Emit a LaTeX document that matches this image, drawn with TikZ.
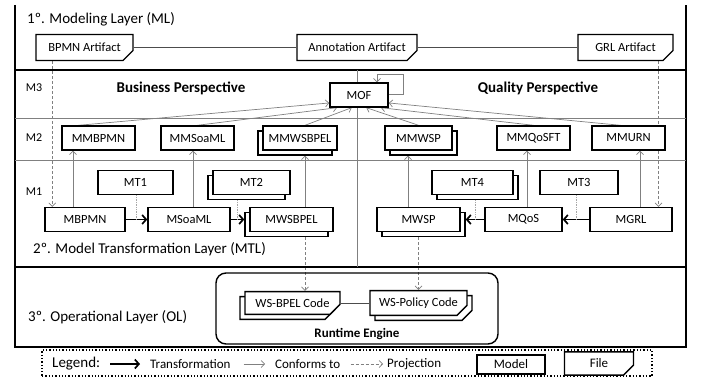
\documentclass[tikz,border=0pt]{standalone}
\usepackage{fontspec}
\setmainfont{Carlito}
\usetikzlibrary{shapes.misc}
\usetikzlibrary{shadows}
\usetikzlibrary{backgrounds}
\usetikzlibrary{calc}
\usetikzlibrary{arrows.meta}

\tikzset{
  layerline/.style={line width=2.4pt},
  sepline/.style={gray, line width=0.8pt},
  model/.style={draw, line width=1.4pt, fill=white, minimum height=24pt, inner sep=2pt, font=\fontsize{12.5}{15}\selectfont},
  file/.style={model, chamfered rectangle, chamfered rectangle corners=south east,
    chamfered rectangle xsep=5pt, chamfered rectangle ysep=5pt,
    path picture={\fill ([xshift=-5pt]path picture bounding box.south east) -- ++(0,5pt) -- ++(5pt,0) -- cycle;}},
  stackl/.style={copy shadow={shadow xshift=-5pt, shadow yshift=-5pt, draw, fill=white, line width=1.4pt}},
  stackr/.style={copy shadow={shadow xshift=5pt, shadow yshift=-5pt, draw, fill=white, line width=1.4pt}},
  transf/.style={-{Straight Barb[length=4pt,width=9pt]}, line width=1.7pt},
  conforms/.style={->, gray, line width=0.7pt},
  proj/.style={->, gray, densely dashed, line width=0.7pt},
  mtlink/.style={gray!70, densely dotted, line width=0.7pt},
  layertitle/.style={anchor=west, inner sep=0pt, font=\fontsize{15}{18}\selectfont},
  persp/.style={inner sep=0pt, font=\bfseries\fontsize{15}{18}\selectfont},
  mlevel/.style={inner sep=0pt, font=\fontsize{12}{14}\selectfont},
  legtext/.style={anchor=west, inner sep=0pt, font=\fontsize{13}{15}\selectfont},
}

\begin{document}
\begin{tikzpicture}[x=1pt, y=-1pt, >={Straight Barb[length=3.5pt,width=7pt]}]
	\useasboundingbox (0,0) rectangle (701,385);
	%\draw[help lines] (0,0) grid[step=50] (701,385);

	% layers
	\draw[layerline] (15,5) -- (15,347) -- (686,347) -- (686,5);
	\draw[layerline] (15,70) -- (686,70);
	\draw[layerline] (15,267) -- (686,267);
	\draw[sepline] (15,118) -- (686,118);
	\draw[sepline] (15,160) -- (686,160);
	\draw[sepline] (357,70) -- (357,267);

	\node[layertitle] (ml) at (27,19) {1º. Modeling Layer (ML)};
	\node[layertitle] (mtl) at (33,249) {2º. Model Transformation Layer (MTL)};
	\node[layertitle] (ol) at (28,317) {3º. Operational Layer (OL)};

	\node[mlevel] (m3) at (34,88) {M3};
	\node[mlevel] (m2) at (34,138) {M2};
	\node[mlevel] (m1) at (34,192) {M1};

	\node[persp] (bp) at (181,88) {Business Perspective};
	\node[persp] (qp) at (538,88) {Quality Perspective};

	% artifacts
	\node[file, minimum width=97pt, minimum height=26pt] (bpmnart) at (84.5,47.5) {BPMN Artifact};
	\node[file, minimum width=120pt, minimum height=26pt] (annart) at (357,47.5) {Annotation Artifact};
	\node[file, minimum width=95pt, minimum height=26pt] (grlart) at (625.5,47.5) {GRL Artifact};

	% M3
	\node[model, minimum width=58pt] (mof) at (359,95) {MOF};

	% M2
	\node[model, minimum width=73pt] (mmbpmn) at (98.5,138) {MMBPMN};
	\node[model, minimum width=73pt] (mmsoaml) at (197.5,138) {MMSoaML};
	\node[model, stackl, minimum width=74pt] (mmwsbpel) at (300,138) {MMWSBPEL};
	\node[model, stackr, minimum width=67pt] (mmwsp) at (418.5,138) {MMWSP};
	\node[model, minimum width=73pt] (mmqosft) at (533.5,138) {MMQoSFT};
	\node[model, minimum width=73pt] (mmurn) at (628.5,138) {MMURN};

	% M1
	\node[model, minimum width=75pt] (mt1) at (135.5,182.5) {MT1};
	\node[model, stackl, minimum width=77pt] (mt2) at (251.5,182.5) {MT2};
	\node[model, stackr, minimum width=81pt] (mt4) at (472.5,182.5) {MT4};
	\node[model, minimum width=78pt] (mt3) at (579,182.5) {MT3};

	\node[model, minimum width=80pt] (mbpmn) at (85,219.5) {MBPMN};
	\node[model, minimum width=82pt] (msoaml) at (189,219.5) {MSoaML};
	\node[model, stackl, minimum width=83pt] (mwsbpel) at (291.5,219.5) {MWSBPEL};
	\node[model, stackr, minimum width=83pt] (mwsp) at (418.5,219.5) {MWSP};
	\node[model, minimum width=77pt] (mqos) at (523.5,219.5) {MQoS};
	\node[model, minimum width=82pt] (mgrl) at (631,219.5) {MGRL};

	% runtime
	\node[draw, line width=1.4pt, rounded corners=10pt, minimum width=282pt, minimum height=71pt] (rte) at (357,308.5) {};
	\node[file, stackl, minimum width=95pt, minimum height=22pt] (wsbpel) at (292.5,303) {WS-BPEL Code};
	\node[file, stackr, minimum width=97pt, minimum height=22pt] (wspol) at (418.5,303) {WS-Policy Code};
	\node[inner sep=0pt, font=\bfseries\fontsize{13}{15}\selectfont] (rtelbl) at (357,334) {Runtime Engine};

	\begin{pgfonlayer}{background}
	\draw[gray!60!black, line width=0.7pt] (bpmnart.east) -- (annart.west);
	\draw[gray!60!black, line width=0.7pt] (annart.east) -- (grlart.west);
	\draw[gray!60!black, line width=0.7pt] (wsbpel.east) -- (wspol.west);

	% conforms to MOF
	\draw[conforms] ([xshift=-20pt]mmbpmn.north) -- (mof.195);
	\draw[conforms] (mmsoaml.north) -- (mof.210);
	\draw[conforms] ([xshift=5pt]mmwsbpel.north) -- (mof.240);
	\draw[conforms] (mmwsp.north) -- (mof.300);
	\draw[conforms] (mmqosft.north) -- (mof.330);
	\draw[conforms] ([xshift=-8pt]mmurn.north) -- (mof.345);
	\draw[conforms] ([yshift=1pt]mof.east) -- ++(15,0) -- ++(0,-20) -| ([xshift=18pt]mof.north);

	% conforms M1 -> M2
	\coordinate (c1) at ([xshift=-12pt]mbpmn.north);
	\coordinate (c2) at ([xshift=4pt]msoaml.north);
	\coordinate (c3) at ([xshift=13.5pt]mwsbpel.north);
	\coordinate (c4) at ([xshift=-10.5pt]mwsp.north);
	\coordinate (c5) at ([xshift=3.5pt]mqos.north);
	\coordinate (c6) at ([xshift=9pt]mgrl.north);
	\draw[conforms] (c1) -- (c1 |- mmbpmn.south);
	\draw[conforms] (c2) -- (c2 |- mmsoaml.south);
	\draw[conforms] (c3) -- ([yshift=-5pt]c3 |- mmwsbpel.south);
	\draw[conforms] (c4) -- ([yshift=-5pt]c4 |- mmwsp.south);
	\draw[conforms] (c5) -- (c5 |- mmqosft.south);
	\draw[conforms] (c6) -- (c6 |- mmurn.south);

	% projections
	\coordinate (p1) at ([xshift=17pt]bpmnart.south west);
	\coordinate (p2) at ([xshift=-10pt]grlart.south east);
	\coordinate (p3) at ([xshift=13.5pt,yshift=-5pt]mwsbpel.south);
	\coordinate (p4) at ([yshift=-5pt]mwsp.south);
	\draw[proj] (p1) -- (p1 |- mbpmn.north);
	\draw[proj] (p2) -- (p2 |- mgrl.north);
	\draw[proj] (p3) -- (p3 |- wsbpel.north);
	\draw[proj] (p4) -- (p4 |- wspol.north);
	\end{pgfonlayer}

	% transformations
	\draw[transf] (mbpmn.east) -- (msoaml.west);
	\draw[transf] (msoaml.east) -- ([xshift=-5pt]mwsbpel.west);
	\draw[transf] (mgrl.west) -- (mqos.east);
	\draw[transf] (mqos.west) -- ([xshift=5pt]mwsp.east);

	\coordinate (t1) at ($(mbpmn.east)!0.5!(msoaml.west)$);
	\coordinate (t2) at ($(msoaml.east)!0.5!([xshift=-5pt]mwsbpel.west)$);
	\coordinate (t4) at ($(mqos.west)!0.5!([xshift=5pt]mwsp.east)$);
	\coordinate (t3) at ($(mgrl.west)!0.5!(mqos.east)$);
	\draw[mtlink] (t1 |- mt1.south) -- (t1);
	\draw[mtlink] ([yshift=-5pt]t2 |- mt2.south) -- (t2);
	\draw[mtlink] ([yshift=-5pt]t4 |- mt4.south) -- (t4);
	\draw[mtlink] (t3 |- mt3.south) -- (t3);

	% legend
	\node[draw, dotted, line width=1.3pt, minimum width=610pt, minimum height=26pt] (legend) at (347,363) {};
	\node[anchor=west, inner sep=0pt, font=\fontsize{15}{18}\selectfont] (lg) at (52,364) {Legend:};
	\node[legtext] (lgtr) at (150,364) {Transformation};
	\node[legtext] (lgco) at (275,364) {Conforms to};
	\node[legtext] (lgpr) at (387,364) {Projection};
	\node[model, minimum width=68pt, minimum height=19pt, font=\fontsize{13}{15}\selectfont] (lgmo) at (511,364.5) {Model};
	\node[file, minimum width=69pt, minimum height=19pt, font=\fontsize{13}{15}\selectfont] (lgfi) at (599,363.5) {File};
	\draw[transf] ([xshift=10pt]lg.east) -- ([xshift=-10pt]lgtr.west);
	\draw[conforms] ([xshift=13pt]lgtr.east) -- ([xshift=-10pt]lgco.west);
	\draw[proj] ([xshift=10pt]lgco.east) -- ([xshift=-4pt]lgpr.west);
\end{tikzpicture}
\end{document}
